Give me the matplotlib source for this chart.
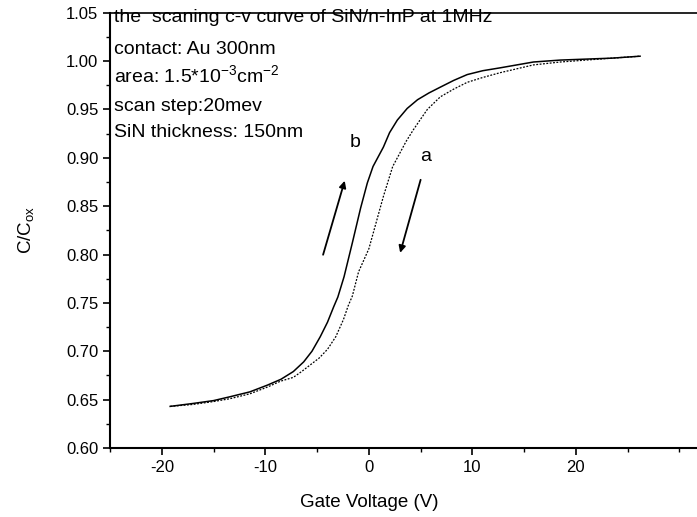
import matplotlib
matplotlib.use('Agg')
import matplotlib.pyplot as plt
from matplotlib.ticker import MultipleLocator

plt.rcParams['font.family'] = ['Liberation Sans', 'DejaVu Sans']
plt.rcParams['axes.unicode_minus'] = False
plt.rcParams['mathtext.fontset'] = 'custom'
plt.rcParams['mathtext.rm'] = 'Liberation Sans'

# curve b (solid, sweep up)
vb = [-19.2, -17.0, -15.0, -13.4, -11.5, -9.8, -8.5, -7.3, -6.3, -5.5, -4.7, -4.0,
      -3.4, -3.0, -2.4, -1.6, -0.8, -0.15, 0.4, 1.4, 2.0, 2.75, 3.7, 4.7, 5.8,
      6.9, 8.2, 9.5, 11.0, 12.7, 14.3, 15.9, 18.5, 21.0, 23.5, 26.2]
cb = [0.643, 0.646, 0.649, 0.653, 0.658, 0.665, 0.671, 0.679, 0.689, 0.700, 0.715, 0.730,
      0.746, 0.756, 0.777, 0.812, 0.848, 0.874, 0.891, 0.911, 0.926, 0.939, 0.951, 0.960, 0.967,
      0.973, 0.980, 0.986, 0.990, 0.993, 0.996, 0.999, 1.001, 1.002, 1.003, 1.005]

# curve a (dotted, sweep down)
va = [-19.2, -17.0, -15.0, -13.4, -11.5, -9.8, -8.55, -7.3, -6.5, -5.65, -4.8, -4.0,
      -3.2, -2.45, -2.0, -1.6, -1.0, -0.5, 0.0, 0.7, 1.4, 2.3, 3.0, 3.6, 4.3, 5.0,
      5.65, 6.9, 8.2, 9.5, 11.0, 12.7, 14.3, 15.9, 18.5, 21.0, 23.5, 26.2]
ca = [0.643, 0.645, 0.648, 0.651, 0.656, 0.663, 0.669, 0.673, 0.679, 0.686, 0.693, 0.702,
      0.715, 0.733, 0.747, 0.757, 0.782, 0.794, 0.806, 0.833, 0.860, 0.891, 0.905, 0.917, 0.929, 0.940,
      0.950, 0.963, 0.971, 0.978, 0.983, 0.988, 0.992, 0.996, 0.999, 1.001, 1.003, 1.005]

notes = ['the  scaning c-v curve of SiN/n-InP at 1MHz',
         'contact: Au 300nm',
         'area: 1.5*10$^{\\mathregular{-3}}$cm$^{\\mathregular{-2}}$',
         'scan step:20mev',
         'SiN thickness: 150nm']
note_y = [1.0405, 1.0073, 0.9774, 0.9484, 0.9216]

xticks = [-20, -10, 0, 10, 20]
yticks = [0.60, 0.65, 0.70, 0.75, 0.80, 0.85, 0.90, 0.95, 1.00, 1.05]

fig = plt.figure(figsize=(6.97, 5.17), dpi=100)
ax = fig.add_axes([0.158, 0.1335, 0.842, 0.842])

ax.plot(vb, cb, color='black', lw=1.1)
ax.plot(va, ca, color='black', lw=0.9, ls=(0, (1.5, 1.2)))

ax.set_xlim(-25, 31.7)
ax.set_ylim(0.60, 1.05)
ax.set_xticks(xticks)
ax.set_yticks(yticks)
ax.set_yticklabels(['%.2f' % t for t in yticks])
ax.xaxis.set_minor_locator(MultipleLocator(5))
ax.yaxis.set_minor_locator(MultipleLocator(0.025))
ax.tick_params(which='major', direction='out', length=5, width=1.2, labelsize=12)
ax.tick_params(which='minor', direction='out', length=3, width=1.0)
ax.spines['right'].set_visible(False)
ax.spines['left'].set_linewidth(1.5)
ax.spines['bottom'].set_linewidth(1.5)
ax.spines['top'].set_linewidth(1.2)

ax.set_xlabel('Gate Voltage (V)', fontsize=13.5)
ax.xaxis.set_label_coords(25 / 56.7, -0.105)
ax.set_ylabel('C/C$_{\\mathregular{ox}}$', fontsize=13.5)
ax.yaxis.set_label_coords(-0.125, 0.5)

for t, y in zip(notes, note_y):
    ax.text(-24.6, y, t, fontsize=14, va='baseline', ha='left')

ax.annotate('', xy=(-2.26, 0.879), xytext=(-4.5, 0.797),
            arrowprops=dict(arrowstyle='-|>', color='black', lw=1.3, mutation_scale=10))
ax.annotate('', xy=(2.95, 0.799), xytext=(5.07, 0.880),
            arrowprops=dict(arrowstyle='-|>', color='black', lw=1.3, mutation_scale=10))
ax.text(-1.3, 0.916, 'b', fontsize=14, ha='center', va='center')
ax.text(5.5, 0.901, 'a', fontsize=14, ha='center', va='center')

fig.savefig('out.png', dpi=100)
